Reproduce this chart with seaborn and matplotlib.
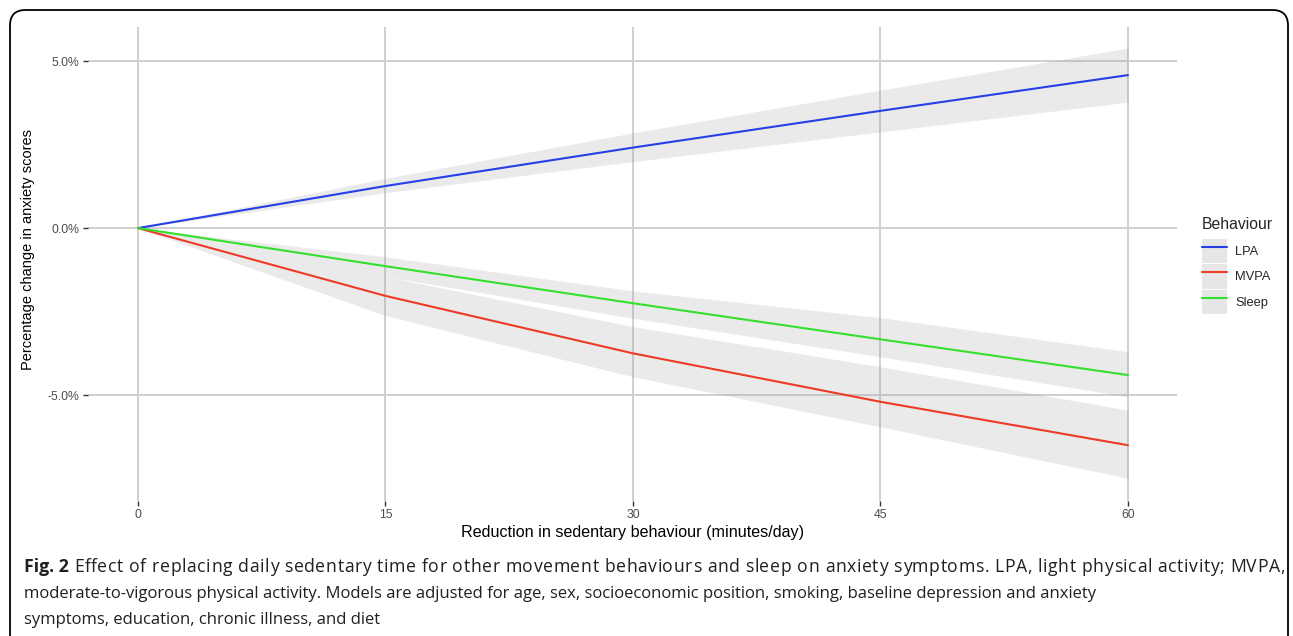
import numpy as np
import pandas as pd
import matplotlib
matplotlib.use("Agg")
import matplotlib.pyplot as plt
import seaborn as sns
from matplotlib.lines import Line2D
from matplotlib.patches import Patch, FancyBboxPatch
from matplotlib.ticker import FuncFormatter

# ---- data ----
minutes = [0, 15, 30, 45, 60]
behaviours = ["LPA", "MVPA", "Sleep"]
lpa = [0, 1.26, 2.41, 3.51, 4.58]
lpa_lo = [0, 1.06, 1.99, 2.88, 3.77]
lpa_hi = [0, 1.49, 2.85, 4.13, 5.39]
mvpa = [0, -2.03, -3.75, -5.20, -6.50]
mvpa_lo = [0, -2.62, -4.45, -5.95, -7.49]
mvpa_hi = [0, -1.45, -2.95, -4.15, -5.45]
sleep = [0, -1.14, -2.25, -3.33, -4.40]
sleep_lo = [0, -1.45, -2.70, -3.85, -5.05]
sleep_hi = [0, -0.86, -1.88, -2.68, -3.70]
x_ticks = [0, 15, 30, 45, 60]
y_ticks = [-5, 0, 5]
colors = {"LPA": "#2540e6", "MVPA": "#ec3b26", "Sleep": "#33e02d"}

caption_bold = "Fig. 2"
caption_lines = [
    " Effect of replacing daily sedentary time for other movement behaviours and sleep on anxiety symptoms. LPA, light physical activity; MVPA,",
    "moderate-to-vigorous physical activity. Models are adjusted for age, sex, socioeconomic position, smoking, baseline depression and anxiety",
    "symptoms, education, chronic illness, and diet",
]

series = {"LPA": (lpa, lpa_lo, lpa_hi), "MVPA": (mvpa, mvpa_lo, mvpa_hi),
          "Sleep": (sleep, sleep_lo, sleep_hi)}
rows = []
for b in behaviours:
    for m, v in zip(minutes, series[b][0]):
        rows.append({"Reduction": m, "Change": v, "Behaviour": b})
df = pd.DataFrame(rows)

sns.set_theme(style="white")
plt.rcParams["font.family"] = ["Liberation Sans", "DejaVu Sans"]

W, H = 1293, 636
fig = plt.figure(figsize=(W / 100, H / 100), dpi=100)
fig.patch.set_facecolor("white")

left, right, top, bottom = 88, 1177, 27, 501
ax = fig.add_axes([left / W, 1 - bottom / H, (right - left) / W, (bottom - top) / H])
ax.set_facecolor("white")

for b in behaviours:
    _, lo, hi = series[b]
    ax.fill_between(minutes, lo, hi, color="#999999", alpha=0.2, lw=0, zorder=2)

sns.lineplot(data=df, x="Reduction", y="Change", hue="Behaviour",
             palette=colors, hue_order=behaviours, lw=1.5, ax=ax,
             legend=False, zorder=3)

ax.set_xlim(-3.03, 62.97)
ax.set_ylim(-8.17, 6.02)
ax.set_xticks(x_ticks)
ax.set_yticks(y_ticks)
ax.yaxis.set_major_formatter(FuncFormatter(lambda v, p: f"{v:.1f}%"))
ax.grid(True, color="#cfcfcf", lw=1.4, zorder=0)
ax.set_axisbelow(True)
for s in ax.spines.values():
    s.set_visible(False)
ax.tick_params(axis="both", which="major", length=3.5, width=1.0, color="#333333",
               labelcolor="#4d4d4d", labelsize=8.8, pad=2.5, bottom=True, left=True)
ax.set_xlabel("Reduction in sedentary behaviour (minutes/day)", fontsize=11.6,
              color="black", labelpad=3)
ax.set_ylabel("Percentage change in anxiety scores", fontsize=10.5,
              color="black")
ax.yaxis.set_label_coords(-(88 - 35) / (right - left), (501 - 250) / (bottom - top))

# legend
handles = [(Patch(facecolor="#e6e6e6", edgecolor="none"),
            Line2D([], [], color=colors[b], lw=1.5)) for b in behaviours]
leg = fig.legend(handles, behaviours, title="Behaviour", loc="upper left",
                 bbox_to_anchor=(1202 / W, 1 - 217 / H), frameon=False,
                 fontsize=9.3, title_fontsize=11.3, handlelength=1.95,
                 handleheight=2.5, handletextpad=0.6, labelspacing=0.1,
                 borderaxespad=0, borderpad=0)
leg._legend_box.align = "left"
leg._legend_box.sep = 5

# caption
fig.canvas.draw()
r = fig.canvas.get_renderer()
cap_color = "#231f20"
cap_size = 12
first_size = 12.7
cap_fam = ["Open Sans", "DejaVu Sans"]
y1 = 1 - 567 / H

t0 = fig.text(24 / W, y1, caption_bold, fontsize=first_size, fontweight="bold",
              family=cap_fam, color=cap_color, va="center", ha="left")
x0 = t0.get_window_extent(renderer=r).x1

# first line reaches the right edge (as in the reference)
s = caption_lines[0]
probe = fig.text(0, 0, "|", fontsize=first_size, family=cap_fam)
bar_w = probe.get_window_extent(renderer=r).width
prefix_w = []
for i in range(len(s) + 1):
    probe.set_text(s[:i] + "|")
    prefix_w.append(probe.get_window_extent(renderer=r).width - bar_w)
probe.remove()
target = 1285 - x0
extra = (target - prefix_w[-1]) / max(len(s) - 1, 1)
for i, ch in enumerate(s):
    if ch == " ":
        continue
    fig.text((x0 + prefix_w[i] + extra * i) / W, y1, ch, fontsize=first_size,
             family=cap_fam, color=cap_color, va="center", ha="left")

fig.text(24 / W, 1 - 594 / H, caption_lines[1], fontsize=cap_size,
         family=cap_fam, color=cap_color, va="center", ha="left")
fig.text(24 / W, 1 - 620 / H, caption_lines[2], fontsize=cap_size,
         family=cap_fam, color=cap_color, va="center", ha="left")

# rounded frame around the figure
frame = FancyBboxPatch((10 / W, -0.1), (1288 - 10) / W, 1 - 10 / H + 0.1,
                       boxstyle="round,pad=0,rounding_size=0.012",
                       transform=fig.transFigure, fill=False, ec="black",
                       lw=1.3, mutation_aspect=W / H)
fig.add_artist(frame)

fig.savefig("out.png", dpi=100, facecolor="white")
